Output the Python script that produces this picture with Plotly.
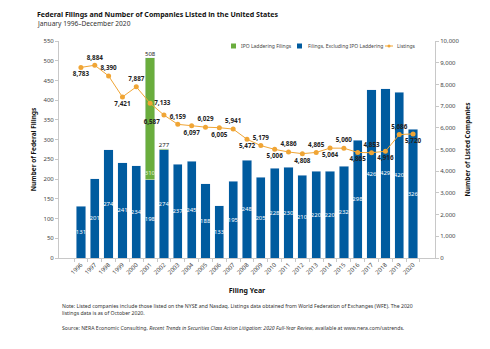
import plotly.graph_objects as go

years = [str(y) for y in range(1996, 2021)]
filings_ex_ipo = [131, 201, 274, 241, 234, 198, 274, 237, 245, 188, 133, 195, 248,
                  205, 228, 230, 210, 220, 220, 232, 298, 426, 429, 420, 326]
ipo_years = ["2001", "2002"]
ipo_laddering = [310, 3]
ipo_text = ["310", ""]
total_years = ["2001", "2002"]
total_filings = [508, 277]
listings = [8783, 8884, 8390, 7421, 7887, 7133, 6587, 6159, 6097, 6029, 6005, 5941, 5472,
            5179, 5006, 4886, 4808, 4865, 5064, 5060, 4865, 4853, 4916, 5686, 5720]
label_pos = ["bottom center", "top center", "top center", "bottom center", "top center",
             "middle right", "bottom left", "top center", "bottom center", "top center",
             "bottom center", "top center", "bottom center", "top center", "bottom center",
             "top center", "bottom center", "top center", "bottom center", "top center",
             "bottom center", "top center", "bottom center", "top center", "bottom center"]
legend_names = ["IPO Laddering Filings", "Filings, Excluding IPO Laddering", "Listings"]

BLUE = "#005b9f"
GREEN = "#6aad3d"
ORANGE = "#f0a535"
FONT = "Noto Sans"

fig = go.Figure()
fig.add_trace(go.Bar(
    x=years, y=filings_ex_ipo, name=legend_names[1], marker_color=BLUE,
    text=[str(v) for v in filings_ex_ipo], textposition="inside", insidetextanchor="middle",
    textangle=0, constraintext="none",
    insidetextfont=dict(color="white", size=6, family=FONT), showlegend=False,
))
fig.add_trace(go.Bar(
    x=ipo_years, y=ipo_laddering, name=legend_names[0], marker_color=GREEN,
    text=ipo_text, textposition="inside", insidetextanchor="start", textangle=0,
    constraintext="none", insidetextfont=dict(color="#e4f2d8", size=6, family=FONT),
    showlegend=False,
))
fig.add_trace(go.Scatter(
    x=total_years, y=total_filings, mode="text", text=[str(v) for v in total_filings],
    textposition="top center", textfont=dict(size=6, color="#222", family=FONT),
    showlegend=False, cliponaxis=False, hoverinfo="skip",
))
fig.add_trace(go.Scatter(
    x=years, y=listings, yaxis="y2", name=legend_names[2], mode="lines+markers+text",
    line=dict(color=ORANGE, width=1), marker=dict(color=ORANGE, size=5),
    text=[f"{v:,}" for v in listings], textposition=label_pos,
    textfont=dict(size=6.3, color="#222", family=FONT, weight="bold"),
    cliponaxis=False, showlegend=False,
))

axis_common = dict(showline=True, linecolor="#c8c8c8", linewidth=1, ticks="outside",
                   tickcolor="#c8c8c8", ticklen=3, showgrid=False, zeroline=False,
                   tickfont=dict(size=6, color="#444", family=FONT))

fig.update_layout(
    width=490, height=349, margin=dict(l=59, r=55, t=41, b=91),
    paper_bgcolor="white", plot_bgcolor="white",
    barmode="stack", bargap=0.33,
    font=dict(family=FONT, size=6, color="#222"),
    xaxis=dict(**axis_common, type="category", tickangle=-45, tickson="boundaries",
               title=dict(text="<b>Filing Year</b>", font=dict(size=7, color="#111"), standoff=12)),
    yaxis=dict(**axis_common, range=[0, 550], dtick=50,
               title=dict(text="<b>Number of Federal Filings</b>", font=dict(size=6.5, color="#111"), standoff=6)),
    yaxis2=dict(**axis_common, overlaying="y", side="right", range=[0, 10000], dtick=1000,
                tickformat=",",
                title=dict(text="<b>Number of Listed Companies</b>", font=dict(size=6.5, color="#111"), standoff=6)),
    showlegend=False,
)

def px_x(px):
    return (px - 59) / 376

def px_y(py):
    return (258 - py) / 217

# manual compact legend
ly = 46
fig.add_shape(type="rect", xref="paper", yref="paper", x0=px_x(231), x1=px_x(236),
              y0=px_y(ly + 2.5), y1=px_y(ly - 2.5), fillcolor=GREEN, line_width=0)
fig.add_shape(type="rect", xref="paper", yref="paper", x0=px_x(297), x1=px_x(302),
              y0=px_y(ly + 2.5), y1=px_y(ly - 2.5), fillcolor=BLUE, line_width=0)
fig.add_shape(type="line", xref="paper", yref="paper", x0=px_x(385), x1=px_x(393),
              y0=px_y(ly), y1=px_y(ly), line=dict(color=ORANGE, width=1))
fig.add_shape(type="circle", xref="paper", yref="paper", x0=px_x(387.5), x1=px_x(390.5),
              y0=px_y(ly + 1.5), y1=px_y(ly - 1.5), fillcolor=ORANGE, line_width=0)
for name, lx in zip(legend_names, [239, 305.5, 395]):
    fig.add_annotation(x=px_x(lx), y=px_y(ly), xref="paper", yref="paper", xanchor="left",
                       yanchor="middle", text=name, showarrow=False,
                       font=dict(size=5.0, color="#444", family=FONT))

fig.add_annotation(x=px_x(35), y=px_y(14), xref="paper", yref="paper", xanchor="left", yanchor="middle",
                   text="<b>Federal Filings and Number of Companies Listed in the United States</b>",
                   showarrow=False, font=dict(size=7.05, color="#111", family=FONT))
fig.add_annotation(x=px_x(35), y=px_y(23.5), xref="paper", yref="paper", xanchor="left", yanchor="middle",
                   text="January 1996–December 2020",
                   showarrow=False, font=dict(size=6.6, color="#333", family=FONT))
fig.add_annotation(x=px_x(60), y=px_y(309.5), xref="paper", yref="paper", xanchor="left", yanchor="middle",
                   align="left",
                   text="Note: Listed companies include those listed on the NYSE and Nasdaq. Listings data obtained from World Federation of Exchanges (WFE). The 2020<br>listings data is as of October 2020.",
                   showarrow=False, font=dict(size=5.15, color="#333", family=FONT))
fig.add_annotation(x=px_x(60), y=px_y(328), xref="paper", yref="paper", xanchor="left", yanchor="middle",
                   text="Source: NERA Economic Consulting, <i>Recent Trends in Securities Class Action Litigation: 2020 Full-Year Review</i>, available at www.nera.com/ustrends.",
                   showarrow=False, font=dict(size=5.15, color="#333", family=FONT))

fig.write_html("out.html")
